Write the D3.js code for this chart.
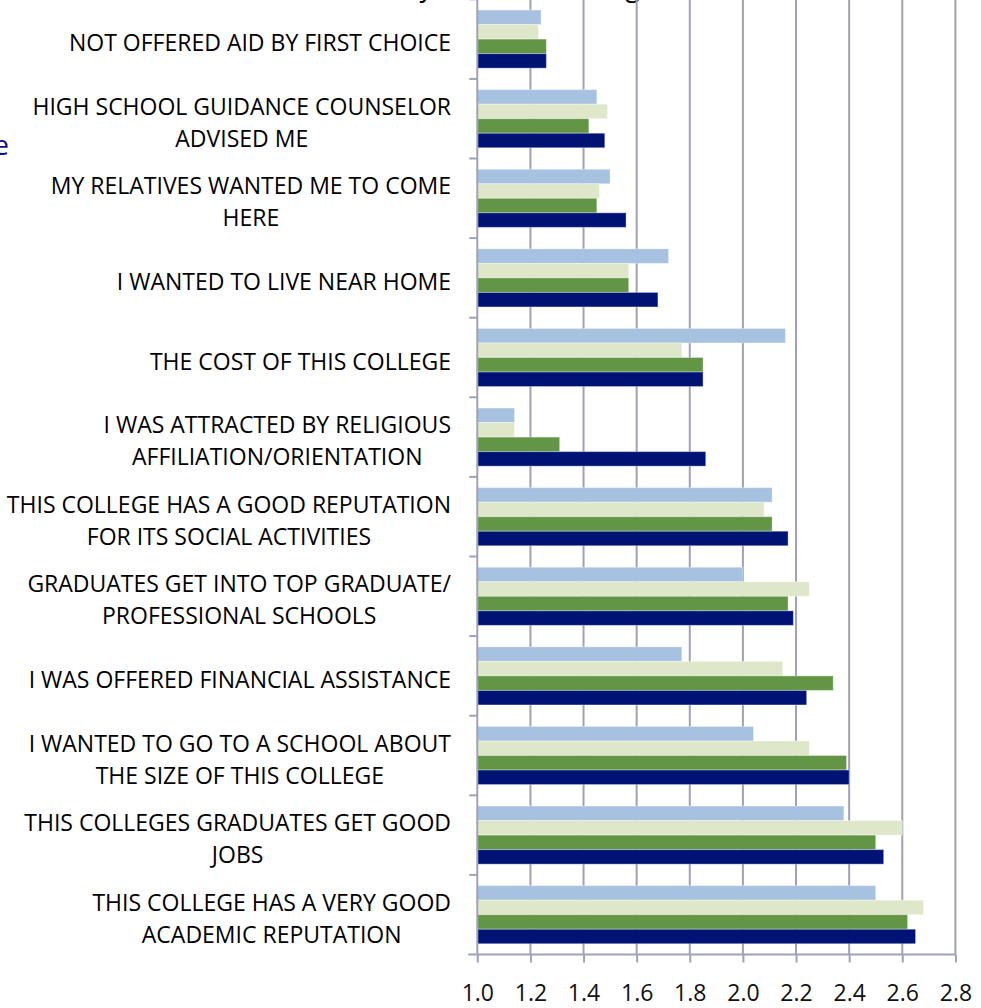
<!DOCTYPE html>
<html>
<head>
<meta charset="utf-8">
<script src="https://cdn.jsdelivr.net/npm/d3@7"></script>
<style>
  html, body { margin: 0; padding: 0; background: #fff; overflow: hidden; }
  svg { display: block; font-family: "Open Sans", sans-serif; }
</style>
</head>
<body>
<div id="chart"></div>
<script>
// categories, top to bottom (multi-line labels split on "|")
var categories = [
  "NOT OFFERED AID BY FIRST CHOICE",
  "HIGH SCHOOL GUIDANCE COUNSELOR|ADVISED ME",
  "MY RELATIVES WANTED ME TO COME|HERE",
  "I WANTED TO LIVE NEAR HOME",
  "THE COST OF THIS COLLEGE",
  "I WAS ATTRACTED BY RELIGIOUS|AFFILIATION/ORIENTATION",
  "THIS COLLEGE HAS A GOOD REPUTATION|FOR ITS SOCIAL ACTIVITIES",
  "GRADUATES GET INTO TOP GRADUATE/|PROFESSIONAL SCHOOLS",
  "I WAS OFFERED FINANCIAL ASSISTANCE",
  "I WANTED TO GO TO A SCHOOL ABOUT|THE SIZE OF THIS COLLEGE",
  "THIS COLLEGES GRADUATES GET GOOD|JOBS",
  "THIS COLLEGE HAS A VERY GOOD|ACADEMIC REPUTATION"
];

// series, drawn top to bottom inside each group
var seriesNames = ["Series 4", "Series 3", "Series 2", "Series 1"];
var seriesColors = ["#a7c1e0", "#dfe7ca", "#629644", "#001375"];

var series4 = [1.24, 1.45, 1.50, 1.72, 2.16, 1.14, 2.11, 2.00, 1.77, 2.04, 2.38, 2.50];
var series3 = [1.23, 1.49, 1.46, 1.57, 1.77, 1.14, 2.08, 2.25, 2.15, 2.25, 2.60, 2.68];
var series2 = [1.26, 1.42, 1.45, 1.57, 1.85, 1.31, 2.11, 2.17, 2.34, 2.39, 2.50, 2.62];
var series1 = [1.26, 1.48, 1.56, 1.68, 1.85, 1.86, 2.17, 2.19, 2.24, 2.40, 2.53, 2.65];
var seriesValues = [series4, series3, series2, series1];

var xTicks = [1.0, 1.2, 1.4, 1.6, 1.8, 2.0, 2.2, 2.4, 2.6, 2.8];

var W = 981, H = 1008;
var plot = {left: 477.3, right: 955.4, top: -0.7, bottom: 954.5};
var gridColor = "#a0a1b6";

var svg = d3.select("#chart").append("svg")
    .attr("width", W)
    .attr("height", H);

var x = d3.scaleLinear()
    .domain([1.0, 2.8])
    .range([plot.left, plot.right]);

var y0 = d3.scaleBand()
    .domain(categories)
    .range([plot.top, plot.bottom])
    .padding(0);

var y1 = d3.scaleBand()
    .domain(seriesNames)
    .range([0, y0.bandwidth()])
    .paddingInner(0)
    .paddingOuter(0.74);

// cut-off title at top (only descenders visible)
svg.append("text")
    .attr("x", 640).attr("y", -4)
    .attr("text-anchor", "end")
    .attr("font-size", "27px")
    .attr("fill", "#000")
    .text("Mean Score by Reason Ranking");

// cut-off side text
svg.append("text")
    .attr("x", 9).attr("y", 155)
    .attr("text-anchor", "end")
    .attr("font-size", "27px")
    .attr("fill", "#0d0d8c")
    .text("Average");

// vertical gridlines
svg.append("g").attr("class", "grid")
  .selectAll("line")
  .data(xTicks.slice(1))
  .enter().append("line")
    .attr("x1", function(d) { return x(d); })
    .attr("x2", function(d) { return x(d); })
    .attr("y1", plot.top)
    .attr("y2", plot.bottom)
    .attr("stroke", gridColor)
    .attr("stroke-width", 2);

// bars
var groups = svg.append("g").attr("class", "bars")
  .selectAll("g")
  .data(seriesNames)
  .enter().append("g")
    .attr("fill", function(d, i) { return seriesColors[i]; });

groups.selectAll("rect")
  .data(function(s, i) {
    return categories.map(function(c, j) { return {cat: c, series: s, value: seriesValues[i][j]}; });
  })
  .enter().append("rect")
    .attr("x", x(1.0))
    .attr("y", function(d) { return y0(d.cat) + y1(d.series); })
    .attr("width", function(d) { return x(d.value) - x(1.0); })
    .attr("height", y1.bandwidth())
    .attr("stroke", "#ffffff")
    .attr("stroke-opacity", 0.35)
    .attr("stroke-width", 1);

// y axis line with outside ticks between categories
var yAxis = svg.append("g").attr("class", "yaxis");
yAxis.append("line")
    .attr("x1", plot.left).attr("x2", plot.left)
    .attr("y1", plot.top).attr("y2", plot.bottom)
    .attr("stroke", gridColor).attr("stroke-width", 2);
yAxis.selectAll(".tk")
  .data(categories)
  .enter().append("line")
    .attr("class", "tk")
    .attr("x1", plot.left - 8).attr("x2", plot.left)
    .attr("y1", function(d) { return y0(d); })
    .attr("y2", function(d) { return y0(d); })
    .attr("stroke", gridColor).attr("stroke-width", 2);

// x axis
var xAxis = d3.axisBottom(x)
    .tickValues(xTicks)
    .tickSize(8)
    .tickPadding(22)
    .tickFormat(d3.format(".1f"));

var gx = svg.append("g").attr("class", "xaxis")
    .attr("transform", "translate(0," + plot.bottom + ")")
    .call(xAxis);
gx.select(".domain").remove();
gx.append("line")
    .attr("x1", plot.left - 9).attr("x2", plot.right)
    .attr("y1", 0).attr("y2", 0)
    .attr("stroke", gridColor).attr("stroke-width", 2);
gx.selectAll(".tick line").attr("stroke", gridColor).attr("stroke-width", 2);
gx.selectAll(".tick text")
    .attr("font-family", "Open Sans, sans-serif")
    .attr("font-size", "23px")
    .attr("fill", "#111");

// category labels: right-aligned block, lines centred inside it
var labelRight = 451, lineGap = 32;
var labels = svg.append("g").attr("class", "labels")
  .selectAll("g")
  .data(categories)
  .enter().append("g");

labels.each(function(d) {
  var g = d3.select(this);
  var lines = d.split("|");
  var cy = y0(d) + y0.bandwidth() / 2 + 3;
  var texts = lines.map(function(l, i) {
    return g.append("text")
      .attr("font-size", "23px")
      .attr("fill", "#000")
      .attr("dominant-baseline", "central")
      .attr("y", cy + (i - (lines.length - 1) / 2) * lineGap)
      .text(l);
  });
  var maxW = d3.max(texts, function(t) { return t.node().getComputedTextLength(); });
  texts.forEach(function(t) {
    t.attr("text-anchor", "middle").attr("x", labelRight - maxW / 2);
  });
});
</script>
</body>
</html>
